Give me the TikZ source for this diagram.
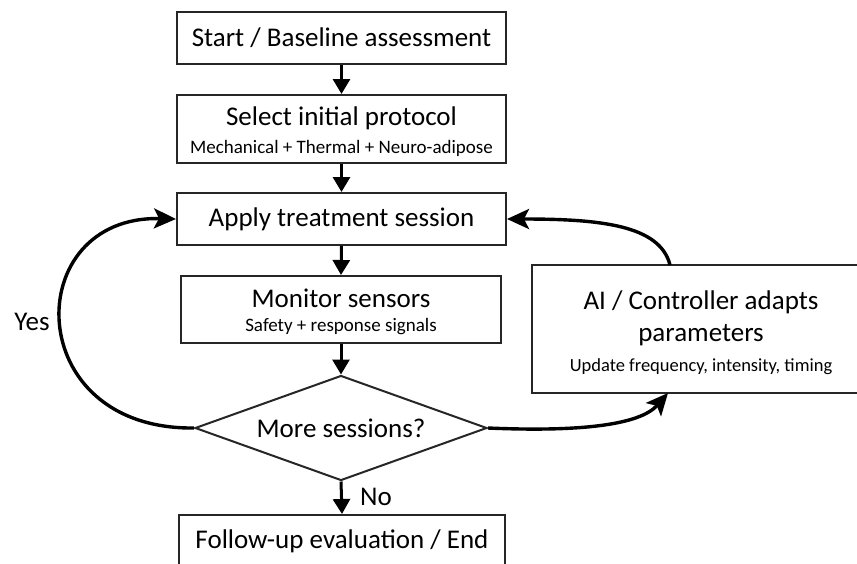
\documentclass[tikz,border=0pt]{standalone}
\usepackage{fontspec}
\setmainfont{Carlito}
\usetikzlibrary{shapes.geometric,arrows.meta}
\begin{document}
\begin{tikzpicture}[x=1pt,y=-1pt,
  box/.style={draw=black!85,line width=2pt,fill=white,inner sep=0pt,align=center},
  big/.style={font=\fontsize{27}{31}\selectfont},
  small/.style={font=\fontsize{19}{22}\selectfont},
  flow/.style={line width=3pt,-{Triangle[length=15pt,width=17pt]}},
  curv/.style={line width=3.4pt,-{Stealth[length=22pt,width=20pt,inset=5pt]}}]
\useasboundingbox (0,0) rectangle (857,563);
\fill[white] (0,0) rectangle (857,563);
\node[box,minimum width=329pt,minimum height=52pt,big] (b1) at (341.5,38) {Start / Baseline assessment};
\node[box,minimum width=329pt,minimum height=68pt] (b2) at (341.5,129) {};
\node[big] at (341.5,118) {Select initial protocol};
\node[small] at (341.5,148) {Mechanical + Thermal + Neuro-adipose};
\node[box,minimum width=329pt,minimum height=52pt,big] (b3) at (341.5,219) {Apply treatment session};
\node[box,minimum width=320pt,minimum height=67pt] (b4) at (341,309.5) {};
\node[big] at (341,298) {Monitor sensors};
\node[small] at (341,327) {Safety + response signals};
\node[draw=black!85,line width=2pt,fill=white,shape=diamond,inner sep=0pt,minimum width=292pt,minimum height=105pt] (d) at (341,428) {};
\node[big] at (341,428) {More sessions?};
\node[box,minimum width=326pt,minimum height=64pt] (b5) at (342,547) {};
\node[big] at (342,541) {Follow-up evaluation / End};
\node[box,minimum width=338pt,minimum height=128pt] (ai) at (701,329) {};
\node[big] at (701,302) {AI / Controller adapts};
\node[big] at (701,335) {parameters};
\node[font=\fontsize{18.5}{22}\selectfont] at (701,367) {Update frequency, intensity, timing};
\node[big] (yes) at (32,322) {Yes};
\node[big] (no) at (376,497) {No};
\coordinate (aitop) at (670,265);
\coordinate (aibot) at (668,393);
\draw[flow] (b1.south) -- (b2.north);
\draw[flow] (b2.south) -- (b3.north);
\draw[flow] (b3.south) -- (b4.north);
\draw[flow] (b4.south) -- (d.north);
\draw[flow] (d.south) -- (b5.north);
\draw[curv] (d.west) .. controls (20,430) and (20,215) .. (b3.west);
\draw[curv] (aitop) .. controls (660,225) and (600,219) .. (b3.east);
\draw[curv] (d.east) .. controls (580,432) and (640,425) .. (aibot);
\end{tikzpicture}
\end{document}
